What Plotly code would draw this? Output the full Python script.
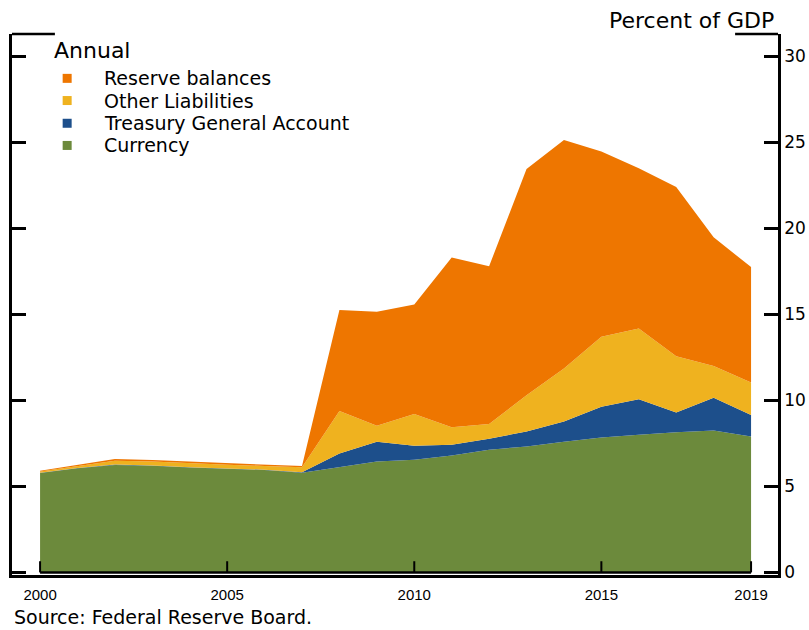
import plotly.graph_objects as go

years = list(range(2000, 2020))

# Percent of GDP, stacked from the bottom up
currency = [5.78, 6.05, 6.25, 6.2, 6.1, 6.02, 5.95, 5.8, 6.12, 6.45,
            6.55, 6.8, 7.13, 7.32, 7.6, 7.84, 8.0, 8.15, 8.25, 7.9]
treasury = [0.02, 0.02, 0.02, 0.02, 0.02, 0.02, 0.02, 0.03, 0.8, 1.15,
            0.81, 0.62, 0.64, 0.87, 1.17, 1.79, 2.06, 1.15, 1.9, 1.25]
other_liab = [0.06, 0.12, 0.22, 0.23, 0.22, 0.22, 0.22, 0.28, 2.46, 0.92,
              1.85, 1.02, 0.86, 2.11, 3.08, 4.07, 4.12, 3.26, 1.85, 1.89]
reserves = [0.05, 0.06, 0.1, 0.08, 0.1, 0.08, 0.07, 0.07, 5.88, 6.64,
            6.36, 9.86, 9.17, 13.15, 13.29, 10.77, 9.32, 9.84, 7.48, 6.71]

xtick_vals = [2000, 2005, 2010, 2015, 2019]
ytick_vals = [0, 5, 10, 15, 20, 25, 30]

COLORS = {
    "Currency": "#6C8A3C",
    "Treasury General Account": "#1D4F8B",
    "Other Liabilities": "#EFB21F",
    "Reserve balances": "#EE7600",
}

FONT = "DejaVu Sans, Liberation Sans, sans-serif"

series = [
    ("Currency", currency),
    ("Treasury General Account", treasury),
    ("Other Liabilities", other_liab),
    ("Reserve balances", reserves),
]

fig = go.Figure()

for name, vals in series:
    fig.add_trace(
        go.Scatter(
            x=years,
            y=vals,
            name=name,
            stackgroup="one",
            mode="lines",
            line=dict(width=0, color=COLORS[name]),
            fillcolor=COLORS[name],
            showlegend=False,
            hoverinfo="skip",
        )
    )

# inner x axis line with upward ticks
fig.add_shape(type="line", x0=2000, x1=2019, y0=0, y1=0,
              line=dict(color="black", width=2.5))
for xv in xtick_vals:
    fig.add_shape(type="line", x0=xv, x1=xv, y0=0, y1=0.65,
                  line=dict(color="black", width=2))

# top corner stubs of the frame
fig.add_shape(type="line", xref="paper", yref="paper", x0=0, x1=0.056, y0=1, y1=1,
              line=dict(color="black", width=2.5))
fig.add_shape(type="line", xref="paper", yref="paper", x0=0.944, x1=1, y0=1, y1=1,
              line=dict(color="black", width=2.5))

# legend (hand placed, top to bottom)
fig.add_annotation(
    text="Annual", xref="paper", yref="paper", x=0.052, y=0.97,
    xanchor="left", yanchor="middle", showarrow=False,
    font=dict(family=FONT, size=22, color="black"),
)
legend_rows = [0.918, 0.877, 0.835, 0.794]
for (name, _), ly in zip(reversed(series), legend_rows):
    fig.add_shape(
        type="rect", xref="paper", yref="paper",
        xsizemode="pixel", ysizemode="pixel",
        xanchor=0.072, yanchor=ly, x0=-4.5, x1=4.5, y0=-4.5, y1=4.5,
        fillcolor=COLORS[name], line=dict(width=0),
    )
    fig.add_annotation(
        text=name, xref="paper", yref="paper", x=0.117, y=ly,
        xanchor="left", yanchor="middle", showarrow=False,
        font=dict(family=FONT, size=19, color="black"),
    )

fig.add_annotation(
    text="Percent of GDP", xref="paper", yref="paper", x=0.997, y=1.025,
    xanchor="right", yanchor="middle", showarrow=False,
    font=dict(family=FONT, size=22, color="black"),
)
fig.add_annotation(
    text="Source: Federal Reserve Board.", xref="paper", yref="paper",
    x=0, y=-0.078, xanchor="left", yanchor="middle", showarrow=False,
    font=dict(family=FONT, size=19, color="black"),
)

fig.update_layout(
    width=809,
    height=630,
    margin=dict(l=12, r=31, t=34, b=55),
    paper_bgcolor="white",
    plot_bgcolor="white",
    font=dict(family=FONT, color="black"),
    showlegend=False,
    xaxis=dict(
        range=[1999.25, 2019.72],
        tickvals=xtick_vals,
        ticktext=[str(v) for v in xtick_vals],
        showgrid=False,
        zeroline=False,
        showline=True,
        linecolor="black",
        linewidth=2.5,
        ticks="",
        automargin=False,
        ticklabelstandoff=4,
        tickfont=dict(family="Liberation Sans, Arial, sans-serif", size=15),
    ),
    yaxis=dict(
        range=[-0.15, 31.3],
        side="right",
        tickvals=ytick_vals,
        showgrid=False,
        zeroline=False,
        showline=True,
        mirror="ticks",
        linecolor="black",
        linewidth=2.5,
        ticks="inside",
        ticklen=14,
        tickwidth=2.5,
        tickcolor="black",
        automargin=False,
        tickfont=dict(family=FONT, size=17),
    ),
)

# drop the default body margin so the figure fills the window exactly
fig.write_html(
    "out.html",
    config={"displayModeBar": False},
    post_script="document.body.style.margin='0px'; document.body.style.overflow='hidden';",
)
